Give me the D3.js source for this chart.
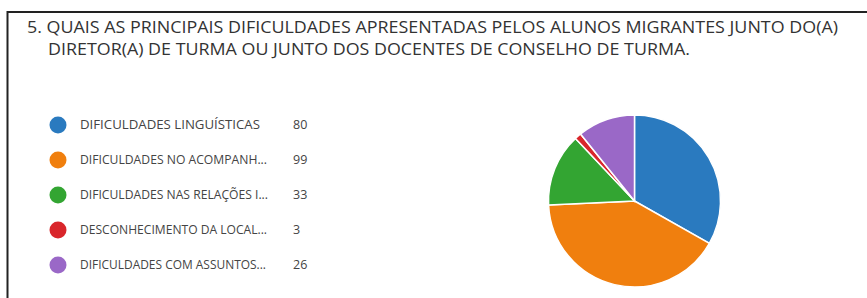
<!DOCTYPE html>
<html>
<head>
<meta charset="utf-8">
<script src="https://cdn.jsdelivr.net/npm/d3@7"></script>
<style>
  html, body { margin: 0; padding: 0; background: #fff; }
  svg { display: block; font-family: "Open Sans", "Noto Sans", sans-serif; }
</style>
</head>
<body>
<div id="chart"></div>
<script>
// chart data
const titleLines = [
    "5. QUAIS AS PRINCIPAIS DIFICULDADES APRESENTADAS PELOS ALUNOS MIGRANTES JUNTO DO(A)",
    "DIRETOR(A) DE TURMA OU JUNTO DOS DOCENTES DE CONSELHO DE TURMA."
];
const categories = [
    "DIFICULDADES LINGUÍSTICAS",
    "DIFICULDADES NO ACOMPANH...",
    "DIFICULDADES NAS RELAÇÕES I...",
    "DESCONHECIMENTO DA LOCAL...",
    "DIFICULDADES COM ASSUNTOS..."
];
const values = [80, 99, 33, 3, 26];
const colors = ["#2a7abf", "#f07f0e", "#33a532", "#d9262b", "#9a68c7"];

const width = 867, height = 298;

const svg = d3.select("#chart").append("svg")
    .attr("width", width)
    .attr("height", height);

// frame (top and left edges only)
svg.append("path")
    .attr("d", "M7.5,298 V12 H867")
    .attr("fill", "none")
    .attr("stroke", "#222")
    .attr("stroke-width", 2);

// title
const title = svg.append("g").attr("fill", "#333").attr("font-size", 16.5);
title.append("text")
    .attr("x", 27).attr("y", 33)
    .attr("textLength", 811).attr("lengthAdjust", "spacingAndGlyphs")
    .text(titleLines[0]);
title.append("text")
    .attr("x", 48).attr("y", 55)
    .attr("textLength", 642).attr("lengthAdjust", "spacingAndGlyphs")
    .text(titleLines[1]);

// legend
const legendY = d3.scalePoint().domain(categories).range([125, 265]);
const legend = svg.append("g").attr("font-size", 12.5).attr("fill", "#444");
const rows = legend.selectAll("g").data(categories).join("g")
    .attr("transform", d => "translate(0," + legendY(d) + ")");
rows.append("circle")
    .attr("cx", 58).attr("r", 8.5)
    .attr("fill", (d, i) => colors[i]);
rows.append("text")
    .attr("x", 80).attr("dy", "0.35em")
    .attr("textLength", (d, i) => [180, 187, 188, 187, 186][i])
    .attr("lengthAdjust", "spacingAndGlyphs")
    .text(d => d);
rows.append("text")
    .attr("x", 293).attr("dy", "0.35em")
    .text((d, i) => values[i]);

// pie
const radius = 86;
const pie = d3.pie().sort(null).value(d => d);
const arc = d3.arc().innerRadius(0).outerRadius(radius);
svg.append("g")
    .attr("transform", "translate(634.5,201)")
    .selectAll("path")
    .data(pie(values))
    .join("path")
    .attr("d", arc)
    .attr("fill", (d, i) => colors[i])
    .attr("stroke", "#fff")
    .attr("stroke-width", 1.5);
</script>
</body>
</html>
